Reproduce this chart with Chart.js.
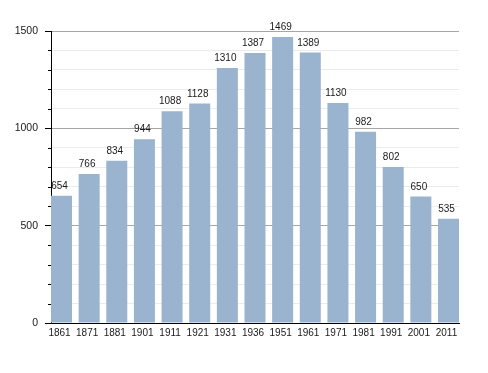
<!DOCTYPE html>
<html>
<head>
<meta charset="utf-8">
<script src="https://cdn.jsdelivr.net/npm/chart.js@4/dist/chart.umd.min.js"></script>
<style>
  html, body { margin: 0; padding: 0; background: #fff; }
  #wrap { width: 488px; height: 373px; }
</style>
</head>
<body>
<div id="wrap"><canvas id="popChart"></canvas></div>
<script>
// Population by census year
const years = ["1861", "1871", "1881", "1901", "1911", "1921", "1931", "1936",
               "1951", "1961", "1971", "1981", "1991", "2001", "2011"];
const population = [654, 766, 834, 944, 1088, 1128, 1310, 1387,
                    1469, 1389, 1130, 982, 802, 650, 535];
const yMax = 1500;
const yMajorStep = 500;
const yMinorStep = 100;

const BAR_FRACTION = 0.76; // bar width relative to spacing
const FONT = "'Liberation Sans', Arial, sans-serif";

// value labels above bars + short minor tick marks on the y axis
const extrasPlugin = {
  id: "extras",
  afterDatasetsDraw(chart) {
    const ctx = chart.ctx;
    const meta = chart.getDatasetMeta(0);
    ctx.save();
    ctx.font = "10px " + FONT;
    ctx.fillStyle = "#1a1a1a";
    ctx.textAlign = "center";
    ctx.textBaseline = "bottom";
    meta.data.forEach((bar, i) => {
      ctx.fillText(String(population[i]), bar.x - 2, bar.y - 4.5);
    });

    const y = chart.scales.y;
    ctx.strokeStyle = "#000";
    ctx.lineWidth = 1;
    y.ticks.forEach((t) => {
      if (t.value % yMajorStep === 0) return;
      const py = Math.round(y.getPixelForValue(t.value)) + 0.5;
      ctx.beginPath();
      ctx.moveTo(y.right - 3, py);
      ctx.lineTo(y.right, py);
      ctx.stroke();
    });
    ctx.restore();
  },
};

const ctx = document.getElementById("popChart").getContext("2d");
new Chart(ctx, {
  type: "bar",
  data: {
    datasets: [
      {
        data: population.map((v, i) => ({ x: i, y: v })),
        backgroundColor: "#9ab3cf",
        borderWidth: 0,
        barPercentage: BAR_FRACTION,
        categoryPercentage: 1,
      },
    ],
  },
  options: {
    responsive: true,
    maintainAspectRatio: false,
    animation: false,
    layout: { padding: { top: 31, right: 29, bottom: 0, left: 0 } },
    plugins: {
      legend: { display: false },
      tooltip: { enabled: false },
    },
    scales: {
      x: {
        type: "linear",
        offset: false,
        min: -BAR_FRACTION / 2,
        max: years.length - 1 + BAR_FRACTION / 2,
        afterBuildTicks: (s) => {
          s.ticks = years.map((_, i) => ({ value: i }));
        },
        afterFit: (s) => { s.height = 50; },
        grid: { display: false, drawTicks: false, offset: false },
        border: { display: true, color: "#000", width: 1 },
        ticks: {
          autoSkip: false,
          maxRotation: 0,
          padding: 4,
          labelOffset: -2,
          color: "#1a1a1a",
          font: { family: FONT, size: 10 },
          callback: (v) => years[v] ?? "",
        },
      },
      y: {
        min: 0,
        max: yMax,
        afterFit: (s) => { s.width = 51; },
        border: { display: true, color: "#000", width: 1 },
        grid: {
          color: (c) => (c.tick && c.tick.value % yMajorStep === 0 ? "#a6a6a6" : "#ebebeb"),
          tickColor: (c) => (c.tick && c.tick.value % yMajorStep === 0 ? "#000" : "rgba(0,0,0,0)"),
          tickLength: 6,
        },
        ticks: {
          stepSize: yMinorStep,
          padding: 7,
          color: "#1a1a1a",
          font: { family: FONT, size: 10.5 },
          callback: (v) => (v % yMajorStep === 0 ? v : ""),
        },
      },
    },
  },
  plugins: [extrasPlugin],
});
</script>
</body>
</html>
